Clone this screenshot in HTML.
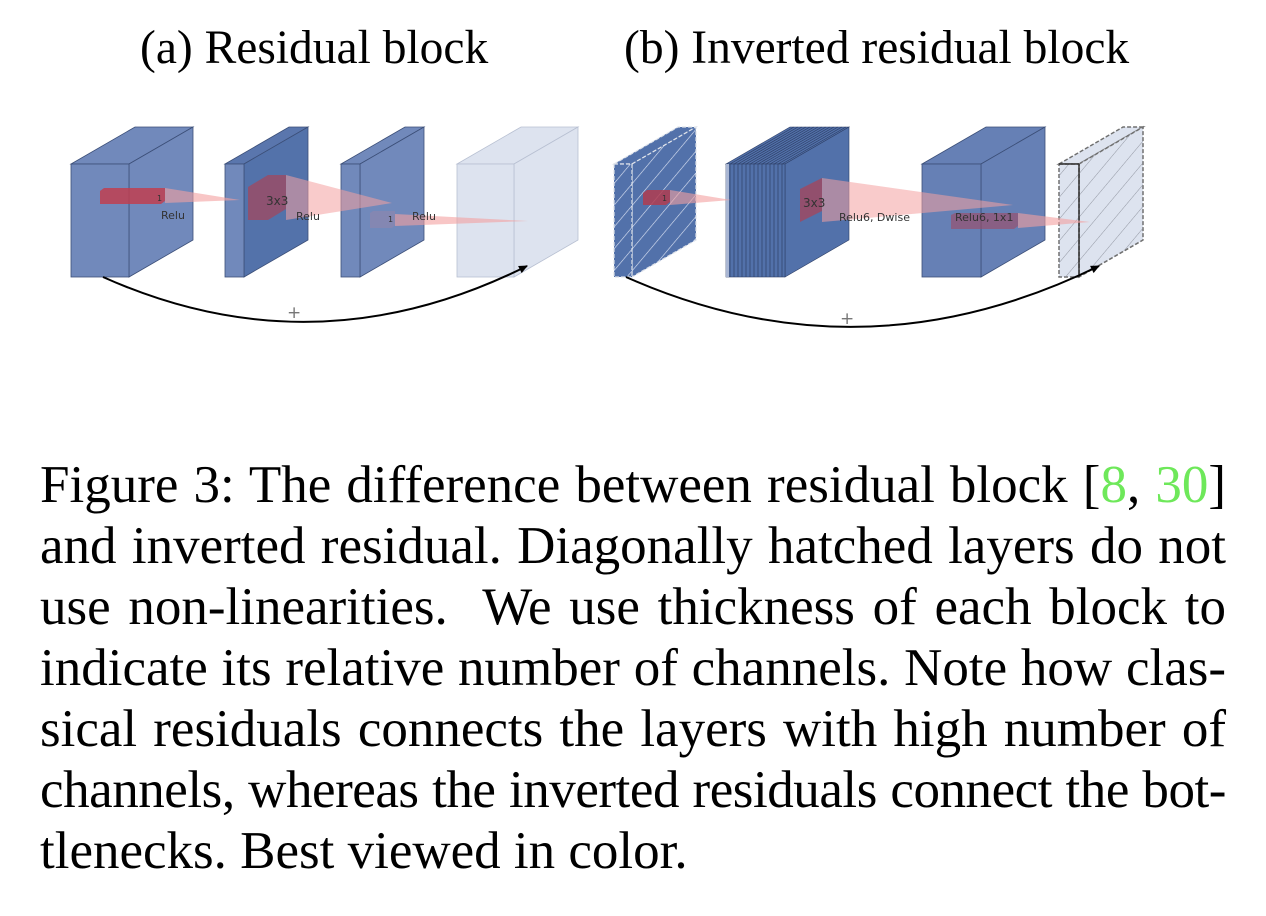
<!DOCTYPE html>
<html><head><meta charset="utf-8"><style>
html,body{margin:0;padding:0;background:#fff;width:1266px;height:916px;overflow:hidden}
.t{position:absolute;font-family:"Liberation Serif",serif;color:#000;white-space:nowrap}
.cap{position:absolute;left:40px;top:455px;width:1186px;font-family:"Liberation Serif",serif;font-size:53px;line-height:61px;color:#000}
.cap div{text-align:justify;text-align-last:justify;white-space:nowrap}
.cap div.l{text-align-last:left}
.g{color:#6ee85a}
</style></head><body>
<div class="t" style="left:140px;top:21px;font-size:47.5px;">(a) Residual block</div>
<div class="t" style="left:624px;top:21px;font-size:47.5px;">(b) Inverted residual block</div>
<svg width="1266" height="420" style="position:absolute;left:0;top:0" font-family="DejaVu Sans, sans-serif">
<defs>
<pattern id="hw" width="14" height="14" patternUnits="userSpaceOnUse" patternTransform="rotate(40)"><line x1="0" y1="0" x2="0" y2="14" stroke="#dfe6f5" stroke-width="1.2"/></pattern>
<pattern id="hg" width="14" height="14" patternUnits="userSpaceOnUse" patternTransform="rotate(40)"><line x1="0" y1="0" x2="0" y2="14" stroke="#8a8f9a" stroke-width="0.9"/></pattern>
<marker id="ar" markerWidth="10" markerHeight="10" refX="8" refY="5" orient="auto" markerUnits="userSpaceOnUse"><path d="M0,1 L9,5 L0,9 z" fill="#000"/></marker>
</defs>
<g stroke="#3c4f78" stroke-width="0.8">
<polygon points="71,164 135,127 193,127 129,164" fill="#7189bb"/>
<polygon points="129,164 193,127 193,240 129,277" fill="#7189bb"/>
<rect x="71" y="164" width="58" height="113" fill="#7189bb"/>
<polygon points="225,164 289,127 308,127 244,164" fill="#5a76ad"/>
<polygon points="244,164 308,127 308,240 244,277" fill="#5372aa"/>
<rect x="225" y="164" width="19" height="113" fill="#7189bb"/>
<polygon points="341,164 405,127 424,127 360,164" fill="#7189bb"/>
<polygon points="360,164 424,127 424,240 360,277" fill="#7189bb"/>
<rect x="341" y="164" width="19" height="113" fill="#7189bb"/>
</g>
<g stroke="#b8c0d2" stroke-width="0.8">
<polygon points="457,164 521,127 578,127 514,164" fill="#dde3ef"/>
<polygon points="514,164 578,127 578,240 514,277" fill="#dde3ef"/>
<rect x="457" y="164" width="57" height="113" fill="#dde3ef"/>
</g>
<polygon points="165,188 240,200 165,203" fill="#f4a0a0" opacity="0.6"/>
<polygon points="100,191 104,188 165,188 165,201 161,204 100,204" fill="#c04050" opacity="0.85"/>
<text x="157" y="201" font-size="8" fill="#333">1</text>
<text x="161" y="219" font-size="11" fill="#333">Relu</text>
<polygon points="286,175 392,203 286,220" fill="#f4a0a0" opacity="0.55"/>
<polygon points="248,187 268,175 286,175 286,209 268,220 248,220" fill="#a84458" opacity="0.7"/>
<text x="266" y="205" font-size="12" fill="#333">3x3</text>
<text x="296" y="220" font-size="11" fill="#333">Relu</text>
<polygon points="395,214 528,221 395,226" fill="#f4a0a0" opacity="0.6"/>
<polygon points="370,213 373,211 395,211 395,225 392,228 370,228" fill="#8a87b0" opacity="0.8"/>
<text x="388" y="222" font-size="8" fill="#333">1</text>
<text x="412" y="220" font-size="11" fill="#333">Relu</text>
<path d="M103,277 Q315,372 527,266" fill="none" stroke="#000" stroke-width="2" marker-end="url(#ar)"/>
<text x="287" y="318" font-size="17" fill="#777">+</text>

<g stroke="#dfe3ea" stroke-width="1.2" stroke-dasharray="4,2">
<polygon points="614,164 678,127 696,127 632,164" fill="#5271aa"/>
<polygon points="632,164 696,127 696,240 632,277" fill="#5271aa"/>
<rect x="614" y="164" width="18" height="113" fill="#5271aa"/>
</g>
<polygon points="632,164 696,127 696,240 632,277" fill="url(#hw)"/>
<rect x="614" y="164" width="18" height="113" fill="url(#hw)"/>
<g stroke="#2e3f66" stroke-width="0.6">
<polygon points="726,164 790,127 849,127 785,164" fill="#5271aa"/>
<polygon points="785,164 849,127 849,240 785,277" fill="#5271aa"/>
<rect x="726" y="164" width="59" height="113" fill="#5271aa"/>
</g>
<g stroke="#2e3f66" stroke-width="0.7">
<line x1="730" y1="164" x2="730" y2="277"/><line x1="734" y1="164" x2="734" y2="277"/><line x1="738" y1="164" x2="738" y2="277"/><line x1="742" y1="164" x2="742" y2="277"/><line x1="746" y1="164" x2="746" y2="277"/><line x1="750" y1="164" x2="750" y2="277"/><line x1="754" y1="164" x2="754" y2="277"/><line x1="758" y1="164" x2="758" y2="277"/><line x1="762" y1="164" x2="762" y2="277"/><line x1="766" y1="164" x2="766" y2="277"/><line x1="770" y1="164" x2="770" y2="277"/><line x1="774" y1="164" x2="774" y2="277"/><line x1="778" y1="164" x2="778" y2="277"/><line x1="782" y1="164" x2="782" y2="277"/>
<line x1="730" y1="164" x2="794" y2="127"/><line x1="734" y1="164" x2="798" y2="127"/><line x1="738" y1="164" x2="802" y2="127"/><line x1="742" y1="164" x2="806" y2="127"/><line x1="746" y1="164" x2="810" y2="127"/><line x1="750" y1="164" x2="814" y2="127"/><line x1="754" y1="164" x2="818" y2="127"/><line x1="758" y1="164" x2="822" y2="127"/><line x1="762" y1="164" x2="826" y2="127"/><line x1="766" y1="164" x2="830" y2="127"/><line x1="770" y1="164" x2="834" y2="127"/><line x1="774" y1="164" x2="838" y2="127"/><line x1="778" y1="164" x2="842" y2="127"/><line x1="782" y1="164" x2="846" y2="127"/>
</g>
<rect x="726" y="164" width="3" height="113" fill="#a9b6d3"/>
<g stroke="#3c4f78" stroke-width="0.8">
<polygon points="922,164 986,127 1045,127 981,164" fill="#6680b5"/>
<polygon points="981,164 1045,127 1045,240 981,277" fill="#6680b5"/>
<rect x="922" y="164" width="59" height="113" fill="#6680b5"/>
</g>
<g stroke="#707070" stroke-width="1.5" stroke-dasharray="4,2">
<polygon points="1059,164 1123,127 1143,127 1079,164" fill="#dde3ef"/>
<polygon points="1079,164 1143,127 1143,240 1079,277" fill="#dde3ef"/>
<rect x="1059" y="164" width="20" height="113" fill="#dde3ef"/>
</g>
<polygon points="1079,164 1143,127 1143,240 1079,277" fill="url(#hg)"/>
<rect x="1059" y="164" width="20" height="113" fill="url(#hg)"/>
<line x1="1079" y1="164" x2="1079" y2="277" stroke="#333" stroke-width="1.5"/>
<line x1="1059" y1="164" x2="1079" y2="164" stroke="#333" stroke-width="1.5"/>
<polygon points="670,190 731,200 670,205" fill="#f4a0a0" opacity="0.6"/>
<polygon points="643,193 647,190 670,190 670,202 666,205 643,205" fill="#b03c50" opacity="0.85"/>
<text x="662" y="201" font-size="8" fill="#333">1</text>
<polygon points="822,178 1013,205 822,222" fill="#f4a0a0" opacity="0.55"/>
<polygon points="800,189 822,178 822,211 800,222" fill="#a84458" opacity="0.75"/>
<text x="803" y="207" font-size="12" fill="#333">3x3</text>
<text x="839" y="221" font-size="11" fill="#333">Relu6, Dwise</text>
<polygon points="1018,213 1090,222 1018,228" fill="#f4a0a0" opacity="0.6"/>
<polygon points="951,215 955,213 1018,213 1018,226 1014,229 951,229" fill="#a04a64" opacity="0.6"/>
<text x="955" y="221" font-size="11" fill="#333">Relu6, 1x1</text>
<path d="M626,277 Q862,382 1099,266" fill="none" stroke="#000" stroke-width="2" marker-end="url(#ar)"/>
<text x="840" y="324" font-size="17" fill="#777">+</text>
</svg>
<div class="cap">
<div>Figure 3: The difference between residual block [<span class="g">8</span>, <span class="g">30</span>]</div>
<div>and inverted residual. Diagonally hatched layers do not</div>
<div>use non-linearities.&nbsp; We use thickness of each block to</div>
<div>indicate its relative number of channels. Note how clas-</div>
<div>sical residuals connects the layers with high number of</div>
<div style="letter-spacing:-0.45px">channels, whereas the inverted residuals connect the bot-</div>
<div class="l">tlenecks. Best viewed in color.</div>
</div>
</body></html>
